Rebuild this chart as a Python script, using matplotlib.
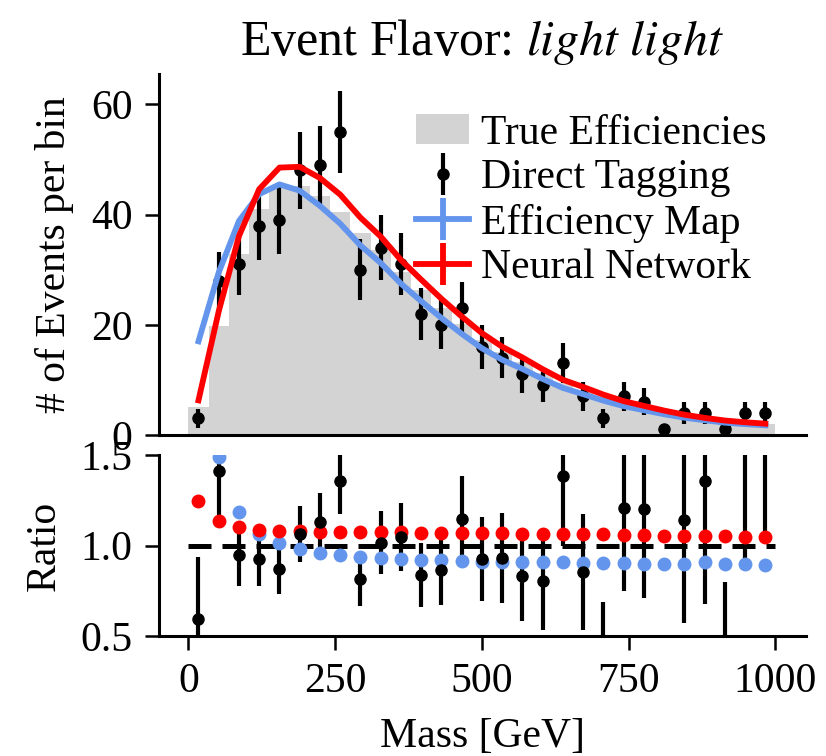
import numpy as np
import matplotlib
matplotlib.use("Agg")
import matplotlib.pyplot as plt

# 29 equal mass bins between 0 and 1000 GeV
mass_lo, mass_hi, n_bins = 0.0, 1000.0, 29

# sum of true tagging efficiencies per bin (grey histogram)
true_eff = [5.04, 19.8, 32.8, 41.0, 44.8, 45.1, 43.3, 40.5, 36.7, 33.5,
            29.6, 26.3, 23.1, 20.1, 17.3, 15.0, 13.2, 11.2, 9.4, 8.2,
            6.9, 5.8, 5.0, 4.2, 3.5, 2.95, 2.5, 2.2, 1.97]

# directly tagged events per bin
direct_tag = [3, 28, 31, 38, 39, 48, 49, 55, 30, 34,
              31, 22, 20, 23, 16, 14, 11, 9, 13, 7,
              3, 7, 6, 1, 4, 4, 1, 4, 4]

# predicted events per bin
eff_map = [17.0, 29.5, 38.84, 43.71, 45.47, 44.33, 41.57, 38.35, 34.39, 31.22,
           27.47, 24.27, 21.23, 18.37, 15.74, 13.65, 11.99, 10.17, 8.54, 7.41,
           6.24, 5.24, 4.50, 3.77, 3.14, 2.68, 2.24, 1.97, 1.76]
neural_net = [6.29, 22.45, 36.11, 44.61, 48.52, 48.66, 46.63, 43.62, 39.45, 36.01,
              31.76, 28.19, 24.72, 21.51, 18.48, 16.02, 14.07, 11.94, 10.02, 8.72,
              7.33, 6.15, 5.29, 4.43, 3.69, 3.11, 2.63, 2.31, 2.06]

flavor = "light light"

plt.rcParams["font.family"] = ["Liberation Serif", "DejaVu Serif"]
plt.rcParams["mathtext.fontset"] = "stix"

BLUE = "cornflowerblue"
RED = "red"
FS = 30
LW = 4.2


def style_axis(ax):
    for side in ("top", "right"):
        ax.spines[side].set_visible(False)
    for side in ("left", "bottom"):
        ax.spines[side].set_linewidth(2.2)
    ax.tick_params(labelsize=FS, length=10, width=1.8, pad=9)


def main():
    edges = np.linspace(mass_lo, mass_hi, n_bins + 1)
    centers = 0.5 * (edges[:-1] + edges[1:])

    truth = np.asarray(true_eff, dtype=float)
    counts = np.asarray(direct_tag, dtype=float)
    emap = np.asarray(eff_map, dtype=float)
    nnet = np.asarray(neural_net, dtype=float)

    fig = plt.figure(figsize=(8.26, 7.56), dpi=100)
    ax1 = fig.add_axes([0.1925, 0.4246, 0.7833, 0.4775])
    ax2 = fig.add_axes([0.1925, 0.1587, 0.7833, 0.2393], sharex=ax1)

    # -------------------- top: event counts --------------------
    _, _, hist_patches = ax1.hist(centers, bins=edges, weights=truth,
                                  color="lightgray", label="True Efficiencies")
    h_dt = ax1.errorbar(centers, counts, yerr=np.sqrt(counts), fmt="o", color="black",
                        ms=8, elinewidth=3, label="Direct Tagging")
    h_em = ax1.errorbar(centers, emap, yerr=np.zeros_like(emap), fmt="-", color=BLUE,
                        lw=LW, elinewidth=LW, label="Efficiency Map")
    h_nn = ax1.errorbar(centers, nnet, yerr=np.zeros_like(nnet), fmt="-", color=RED,
                        lw=LW, elinewidth=LW, label="Neural Network")

    ax1.set_ylim(0, 65.5)
    ax1.set_yticks([0, 20, 40, 60])
    ax1.set_ylabel("# of Events per bin", fontsize=FS, labelpad=12)
    ax1.set_title(r"Event Flavor: $\mathit{" + flavor.replace(" ", r"\ ") + "}$",
                  fontsize=36, pad=14)
    style_axis(ax1)
    ax1.tick_params(axis="x", which="both", bottom=False, labelbottom=False)

    ax1.legend([hist_patches[0], h_dt, h_em, h_nn],
               ["True Efficiencies", "Direct Tagging", "Efficiency Map", "Neural Network"],
               loc="upper right", bbox_to_anchor=(0.965, 0.935), frameon=False,
               fontsize=FS, handlelength=1.25, handletextpad=0.3, labelspacing=0.15,
               borderaxespad=0.0)

    # -------------------- bottom: ratio to truth --------------------
    ax2.errorbar(centers, counts / truth, yerr=np.sqrt(counts) / truth, fmt="o",
                 color="black", ms=8, elinewidth=3)
    ax2.hlines(1.0, mass_lo, mass_hi, colors="black", linestyles=(0, (4.6, 2.2)), lw=3.6)
    ax2.plot(centers, emap / truth, "o", color=BLUE, ms=9)
    ax2.plot(centers, nnet / truth, "o", color=RED, ms=9)

    ax2.set_ylim(0.5, 1.5)
    ax2.set_yticks([0.5, 1.0, 1.5])
    ax2.set_xlim(-50, 1052)
    ax2.set_xticks([0, 250, 500, 750, 1000])
    ax2.set_ylabel("Ratio", fontsize=FS, labelpad=12)
    ax2.set_xlabel("Mass [GeV]", fontsize=FS, labelpad=12)
    style_axis(ax2)

    fig.align_ylabels([ax1, ax2])
    fig.savefig("out.png", dpi=100)


if __name__ == "__main__":
    main()
